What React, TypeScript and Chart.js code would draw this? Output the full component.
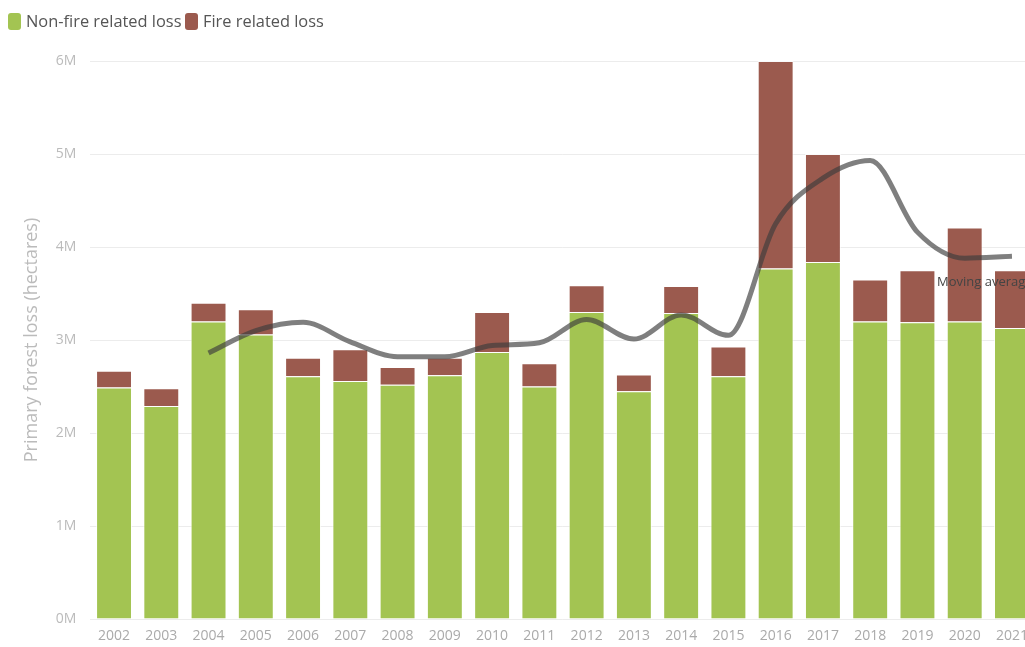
import React, { useEffect, useRef } from "react";
import { Chart, registerables } from "chart.js";

Chart.register(...registerables);

const years = ["2002","2003","2004","2005","2006","2007","2008","2009","2010","2011","2012","2013","2014","2015","2016","2017","2018","2019","2020","2021"];
// values in millions of hectares
const nonFireLoss = [2.49,2.29,3.20,3.06,2.61,2.56,2.52,2.62,2.87,2.50,3.30,2.45,3.29,2.61,3.77,3.84,3.20,3.19,3.20,3.13];
const fireLoss = [0.18,0.19,0.20,0.27,0.20,0.34,0.19,0.19,0.43,0.25,0.29,0.18,0.29,0.32,2.23,1.16,0.45,0.56,1.01,0.62];
const movingAverage = [null,null,2.86,3.10,3.19,2.98,2.82,2.82,2.94,2.97,3.22,3.01,3.27,3.05,4.25,4.74,4.93,4.16,3.88,3.90];

const GREEN = "#a3c452";
const BROWN = "#9b5a4e";
const FONT = "'Open Sans', sans-serif";

const labelPlugin = {
  id: "maLabel",
  afterDatasetsDraw(chart: any) {
    const meta = chart.getDatasetMeta(2);
    const pts = meta.data;
    const last = pts[pts.length - 1];
    if (!last) return;
    const ctx = chart.ctx;
    ctx.save();
    ctx.font = "13px " + FONT;
    ctx.fillStyle = "#444";
    ctx.textAlign = "left";
    ctx.textBaseline = "middle";
    ctx.fillText("Moving average", last.x - 75, last.y + 26);
    ctx.restore();
  },
};

export default function App() {
  const ref = useRef<HTMLCanvasElement | null>(null);
  useEffect(() => {
    if (!ref.current) return;
    const chart = new Chart(ref.current, {
      type: "bar",
      data: {
        labels: years,
        datasets: [
          {
            label: "Non-fire related loss",
            data: nonFireLoss,
            backgroundColor: GREEN,
            borderColor: "rgba(255,255,255,0.75)",
            borderWidth: 1,
            stack: "loss",
            order: 1,
            categoryPercentage: 0.8,
            barPercentage: 0.95,
          },
          {
            label: "Fire related loss",
            data: fireLoss,
            backgroundColor: BROWN,
            borderColor: "rgba(255,255,255,0.75)",
            borderWidth: 1,
            stack: "loss",
            order: 2,
            categoryPercentage: 0.8,
            barPercentage: 0.95,
          },
          {
            type: "line",
            label: "Moving average",
            data: movingAverage as any,
            borderColor: "rgba(60,60,60,0.66)",
            borderWidth: 5,
            pointRadius: 0,
            cubicInterpolationMode: "monotone",
            fill: false,
            stack: "ma",
            order: 0,
          } as any,
        ],
      },
      options: {
        responsive: false,
        animation: false,
        layout: { padding: { top: 61, right: 4.4, bottom: 0, left: 0 } },
        plugins: {
          legend: { display: false },
          tooltip: { enabled: false },
        },
        scales: {
          x: {
            stacked: true,
            grid: { display: false, drawTicks: false },
            border: { display: false },
            ticks: { color: "#aaa", font: { family: FONT, size: 14 }, padding: 9, maxRotation: 0, autoSkip: false },
            afterFit: (s: any) => { s.height = 28; },
          },
          y: {
            stacked: true,
            min: 0,
            max: 6,
            grid: { color: "#ececec", drawTicks: false },
            border: { display: false },
            ticks: {
              stepSize: 1,
              color: "#bbb",
              font: { family: FONT, size: 14 },
              padding: 14,
              callback: (v: any) => v + "M",
            },
            title: {
              display: true,
              text: "Primary forest loss (hectares)",
              color: "#bbb",
              font: { family: FONT, size: 18 },
              padding: { top: 21, bottom: 0 },
            },
            afterFit: (s: any) => { s.width = 90.4; },
          },
        },
      },
      plugins: [labelPlugin],
    });
    return () => chart.destroy();
  }, []);

  const legendItem = (color: string, text: string, left: number) => (
    <div style={{ position: "absolute", left, top: 12, display: "flex", alignItems: "center", height: 18 }}>
      <div style={{ width: 13, height: 17, borderRadius: 3, background: color, marginRight: 5 }} />
      <span style={{ fontFamily: FONT, fontSize: 16.4, color: "#555", lineHeight: "18px", whiteSpace: "nowrap" }}>{text}</span>
    </div>
  );

  return (
    <div style={{ position: "fixed", left: 0, top: 0, width: 1025, height: 647, overflow: "hidden", background: "#fff" }}>
      <canvas ref={ref} width={1040} height={647} style={{ position: "absolute", left: 0, top: 0, width: 1040, height: 647 }} />
      {legendItem(GREEN, "Non-fire related loss", 8)}
      {legendItem(BROWN, "Fire related loss", 185)}
    </div>
  );
}
